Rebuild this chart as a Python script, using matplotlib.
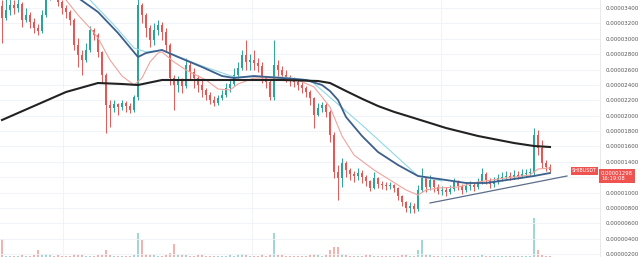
import numpy as np
import matplotlib
matplotlib.use("Agg")
import matplotlib.pyplot as plt

# prices in units of 1e-8 (0.00000001)
SCALE = 1e-8
OPEN0 = 3426

closes = [
    3270, 3374, 3439, 3400, 3452, 3244, 3309, 3218, 3140, 3101,
    3309, 3569, 3634, 3608, 3478, 3400, 3348, 3244, 2919, 2789,
    2724, 2854, 3114, 3049, 2828, 2529, 2139, 2100, 2152, 2113,
    2165, 2126, 2074, 2243, 3439, 3309, 3140, 2984, 3114, 3179,
    3088, 2919, 2490, 2399, 2464, 2386, 2659, 2568, 2490, 2399,
    2334, 2269, 2204, 2165, 2230, 2269, 2360, 2412, 2529, 2620,
    2789, 2698, 2724, 2685, 2646, 2490, 2438, 2243, 2659, 2594,
    2529, 2503, 2464, 2438, 2399, 2360, 2308, 2230, 2009, 2100,
    2139, 2048, 1749, 1268, 1190, 1385, 1294, 1242, 1216, 1255,
    1203, 1151, 1060, 1190, 1112, 1099, 1086, 1099, 1060, 956,
    878, 800, 826, 787, 1034, 1190, 1073, 1164, 1073, 1021,
    1034, 1008, 1047, 1138, 1086, 1034, 1086, 1099, 1073, 1138,
    1242, 1164, 1112, 1151, 1190, 1203, 1216, 1203, 1229, 1216,
    1242, 1255, 1268, 1749, 1580, 1385, 1333, 1298,
]
highs = [
    3504, 3569, 3634, 3504, 3569, 3478, 3400, 3348, 3270, 3192,
    3374, 3699, 3738, 3712, 3634, 3504, 3439, 3374, 3270, 3010,
    2854, 2950, 3166, 3140, 3075, 2840, 2560, 2204, 2204, 2165,
    2204, 2191, 2165, 2269, 3634, 3470, 3330, 3179, 3205, 3244,
    3218, 3140, 2945, 2529, 2516, 2490, 2750, 2698, 2620, 2529,
    2464, 2360, 2308, 2256, 2269, 2334, 2425, 2464, 2620, 2698,
    2854, 2984, 2802, 2854, 2750, 2698, 2516, 2464, 2984, 2724,
    2646, 2594, 2529, 2503, 2464, 2438, 2386, 2334, 2243, 2165,
    2178, 2165, 2074, 1788, 1359, 1450, 1410, 1320, 1281, 1320,
    1294, 1229, 1164, 1268, 1203, 1151, 1138, 1138, 1112, 1073,
    969, 891, 878, 865, 1099, 1320, 1203, 1229, 1190, 1112,
    1086, 1073, 1099, 1190, 1164, 1112, 1138, 1151, 1125, 1190,
    1320, 1268, 1190, 1203, 1242, 1268, 1281, 1268, 1294, 1281,
    1307, 1307, 1320, 1840, 1814, 1684, 1424, 1372,
]
lows = [
    2945, 3244, 3309, 3322, 3348, 3153, 3218, 3140, 3075, 3049,
    3075, 3283, 3504, 3530, 3426, 3322, 3270, 3179, 2854, 2633,
    2529, 2698, 2828, 2984, 2763, 2425, 1775, 1853, 2048, 2009,
    2074, 2048, 2035, 2048, 2204, 3200, 3023, 2893, 2919, 3049,
    2984, 2828, 2399, 2074, 2308, 2295, 2360, 2464, 2360, 2308,
    2243, 2204, 2152, 2126, 2139, 2204, 2243, 2308, 2386, 2490,
    2594, 2594, 2594, 2594, 2568, 2425, 2360, 2204, 2204, 2503,
    2464, 2438, 2386, 2373, 2334, 2295, 2243, 2139, 1840, 1996,
    2048, 1983, 1658, 1190, 904, 1073, 1203, 1164, 1138, 1164,
    1125, 1086, 1021, 1047, 1060, 1047, 1034, 1047, 1008, 904,
    826, 748, 735, 735, 761, 1008, 1008, 1034, 1008, 982,
    969, 956, 982, 1021, 1034, 982, 1008, 1034, 1021, 1047,
    1112, 1112, 1060, 1073, 1112, 1151, 1164, 1164, 1177, 1177,
    1190, 1203, 1216, 1229, 1489, 1320, 1281, 1268,
]
volumes = [
    46, 3, 2, 2, 3, 4, 2, 3, 4, 18,
    6, 8, 4, 3, 4, 3, 2, 3, 8, 6,
    5, 3, 3, 2, 4, 6, 18, 6, 3, 2,
    2, 2, 3, 4, 62, 44, 8, 6, 4, 3,
    3, 6, 10, 33, 6, 4, 5, 3, 3, 4,
    4, 3, 3, 3, 2, 2, 3, 4, 3, 4,
    8, 4, 3, 3, 3, 4, 3, 5, 62, 6,
    4, 3, 3, 3, 3, 3, 3, 4, 8, 4,
    3, 4, 18, 26, 26, 8, 4, 3, 3, 3,
    3, 4, 4, 3, 2, 2, 2, 2, 2, 3,
    4, 4, 3, 3, 18, 44, 6, 4, 3, 3,
    2, 2, 2, 3, 2, 2, 2, 2, 2, 3,
    6, 3, 2, 2, 2, 2, 2, 2, 2, 2,
    2, 2, 2, 100, 18, 6, 3, 3,
]

# moving averages, sampled at candle indices
ma_long_x = [0, 8, 16, 24, 30, 34, 40, 50, 65, 70, 79, 82, 86, 90, 94, 98, 103, 111, 119, 128, 133, 137]
ma_long_y = [1944, 2126, 2308, 2425, 2412, 2399, 2464, 2464, 2464, 2464, 2451, 2425, 2321, 2220, 2126, 2050, 1970, 1840, 1736, 1645, 1606, 1593]

ma_mid_x = [18, 24, 29, 34, 36, 40, 44, 50, 55, 58, 63, 70, 76, 80, 82, 84, 86, 90, 94, 99, 104, 111, 116, 121, 128, 133, 137]
ma_mid_y = [3569, 3348, 3075, 2763, 2815, 2854, 2763, 2633, 2516, 2490, 2516, 2490, 2464, 2399, 2320, 2204, 1983, 1736, 1528, 1359, 1216, 1164, 1125, 1125, 1177, 1216, 1255]

ma_ema_x = [22, 28, 33, 36, 40, 50, 58, 70, 77, 90, 104, 110]
ma_ema_y = [3504, 3179, 2880, 2828, 2854, 2646, 2503, 2503, 2464, 1879, 1216, 1151]

ma_fast_x = [16, 19, 22, 24, 27, 30, 33, 35, 37, 39, 40, 43, 46, 51, 54, 57, 59, 63, 66, 70,
             74, 78, 82, 85, 88, 93, 97, 101, 104, 106, 109, 114, 119, 126, 132, 134, 137]
ma_fast_y = [3504, 3309, 3140, 3010, 2724, 2516, 2399, 2490, 2698, 2815, 2828, 2698, 2594, 2464, 2347, 2334, 2412, 2490, 2490, 2490,
             2464, 2373, 2113, 1736, 1489, 1294, 1164, 1034, 969, 1034, 1060, 1073, 1138, 1190, 1229, 1307, 1320]

trend_x = [107, 141.25]
trend_y = [865, 1216]

price_ticks = list(range(200, 3401, 200))
hidden_tick = 1200  # covered by the last-price tag
last_price = "0.00001298"
countdown = "16:19:08"
symbol = "SHIBUSDT"

UP = "#26a69a"
DOWN = "#ef5350"

fig = plt.figure(figsize=(6.4, 2.57), dpi=100)
ax = fig.add_axes([0, 0, 600 / 640, 1])
axv = ax.twinx()

n = len(closes)
idx = np.arange(n)
c = np.array(closes) * SCALE
o = np.array([OPEN0] + closes[:-1]) * SCALE
h = np.array(highs) * SCALE
l = np.array(lows) * SCALE
up = c >= o
cols = np.where(up, UP, DOWN)

ax.vlines(idx, l, h, colors=cols, lw=0.7, zorder=3)
ax.bar(idx, np.abs(c - o) + 1e-8, bottom=np.minimum(o, c), width=0.62, color=cols, zorder=4, linewidth=0)

ax.plot(ma_ema_x, np.array(ma_ema_y) * SCALE, color="#8fd8e6", lw=0.8, zorder=5)
ax.plot(ma_fast_x, np.array(ma_fast_y) * SCALE, color="#f0a49c", lw=0.8, zorder=5)
ax.plot(ma_mid_x, np.array(ma_mid_y) * SCALE, color="#3d5f8c", lw=1.3, zorder=6)
ax.plot(ma_long_x, np.array(ma_long_y) * SCALE, color="#222222", lw=1.5, zorder=6)
ax.plot(trend_x, np.array(trend_y) * SCALE, color="#5d6d8a", lw=0.9, zorder=6)

ax.set_xlim(-0.5, 149.5)
ax.set_ylim(163 * SCALE, 3504 * SCALE)
ax.set_yticks([p * SCALE for p in price_ticks])
ax.set_yticklabels(["" if p == hidden_tick else f"{p * SCALE:.8f}" for p in price_ticks])
ax.yaxis.tick_right()
ax.tick_params(axis="y", length=0, pad=4, labelsize=4, labelcolor="#555555")
ax.set_xticks([15.25, 62.5, 109.75])
ax.tick_params(axis="x", length=0, labelbottom=False)
ax.grid(True, color="#eef1f6", lw=0.6, zorder=0)
for s in ["top", "left", "bottom"]:
    ax.spines[s].set_visible(False)
ax.spines["right"].set_color("#e4e6ea")
ax.spines["right"].set_linewidth(0.6)

vcols = np.where(up, "#9fd8d2", "#f6b0ae")
axv.bar(idx, volumes, width=0.6, color=vcols, linewidth=0, zorder=1)
axv.set_ylim(0, 100 * 257 / 39)
axv.set_yticks([])
for s in axv.spines.values():
    s.set_visible(False)
ax.set_zorder(axv.get_zorder() + 1)
ax.patch.set_visible(False)

fig.text(601 / 640, 1 - 176 / 257, last_price + "\n" + countdown, fontsize=3.8, color="white",
         ha="left", va="center", linespacing=1.2,
         bbox=dict(boxstyle="square,pad=0.3", fc=DOWN, ec="none"))
fig.text(597 / 640, 1 - 171 / 257, symbol, fontsize=3.5, color="white", ha="right", va="center",
         bbox=dict(boxstyle="square,pad=0.25", fc=DOWN, ec="none"))

fig.savefig("out.png", dpi=100)
